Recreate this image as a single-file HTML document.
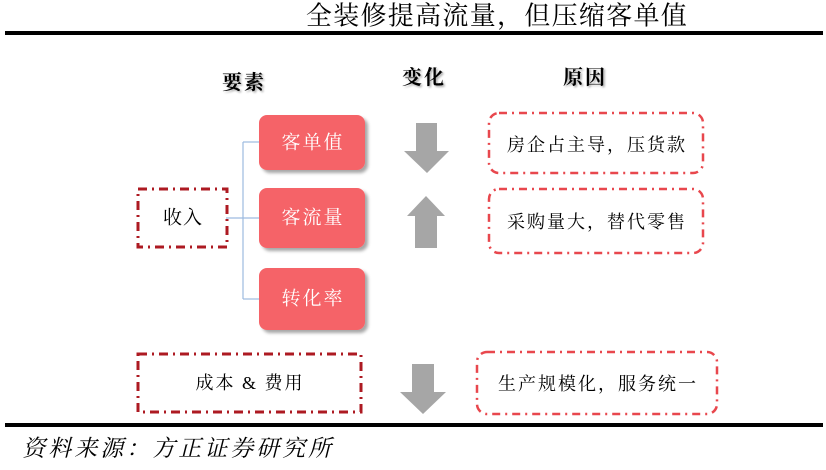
<!DOCTYPE html>
<html>
<head>
<meta charset="utf-8">
<style>
  html,body{margin:0;padding:0;background:#fff;}
  body{width:826px;height:470px;overflow:hidden;}
  svg{display:block;}
  text{font-family:"Liberation Serif","Noto Serif CJK SC",serif;}
</style>
</head>
<body>
<svg width="826" height="470" viewBox="0 0 826 470" xmlns="http://www.w3.org/2000/svg">
  <defs>
    <filter id="sh" x="-10%" y="-10%" width="130%" height="140%">
      <feGaussianBlur in="SourceAlpha" stdDeviation="1.5"/>
      <feOffset dx="3" dy="3" result="o"/>
      <feComponentTransfer><feFuncA type="linear" slope="0.35"/></feComponentTransfer>
      <feMerge><feMergeNode/><feMergeNode in="SourceGraphic"/></feMerge>
    </filter>
    <filter id="tsh" x="-10%" y="-10%" width="130%" height="140%">
      <feGaussianBlur in="SourceAlpha" stdDeviation="1"/>
      <feOffset dx="1.5" dy="1.5" result="o"/>
      <feComponentTransfer><feFuncA type="linear" slope="0.35"/></feComponentTransfer>
      <feMerge><feMergeNode/><feMergeNode in="SourceGraphic"/></feMerge>
    </filter>
  </defs>

  <!-- Title -->
  <text x="497" y="16" font-size="26" letter-spacing="1.3" text-anchor="middle" dominant-baseline="central" fill="#000">全装修提高流量，但压缩客单值</text>
  <rect x="5" y="31" width="818" height="4" fill="#000"/>

  <!-- Headers -->
  <g filter="url(#tsh)" font-weight="bold" font-size="20" fill="#000" letter-spacing="2" text-anchor="middle" dominant-baseline="central">
    <text x="244" y="83">要素</text>
    <text x="424" y="78">变化</text>
    <text x="585" y="78">原因</text>
  </g>

  <!-- Connectors -->
  <g stroke="#9dbbe0" stroke-width="1.2" fill="none">
    <line x1="243" y1="142" x2="243" y2="299"/>
    <line x1="243" y1="142" x2="259" y2="142"/>
    <line x1="226" y1="218" x2="259" y2="218"/>
    <line x1="243" y1="299" x2="259" y2="299"/>
  </g>

  <!-- Red boxes -->
  <g filter="url(#sh)" fill="#f56468">
    <rect x="259" y="115" width="106" height="55" rx="8"/>
    <rect x="259" y="188" width="106" height="60" rx="8"/>
    <rect x="259" y="268" width="106" height="62" rx="8"/>
  </g>
  <g fill="#fff" font-size="19" letter-spacing="2" text-anchor="middle" dominant-baseline="central">
    <text x="313" y="143">客单值</text>
    <text x="313" y="218">客流量</text>
    <text x="313" y="299">转化率</text>
  </g>

  <!-- Dark red dash-dot boxes -->
  <g fill="none" stroke="#ad1a22" stroke-width="3" stroke-dasharray="9 5 2 5">
    <rect x="138" y="189" width="89" height="58"/>
    <rect x="138" y="354" width="223" height="58"/>
  </g>
  <g fill="#000" font-size="19" text-anchor="middle" dominant-baseline="central">
    <text x="183" y="218" letter-spacing="1">收入</text>
    <text x="250" y="383" font-size="18" letter-spacing="2">成本 &amp; 费用</text>
  </g>

  <!-- Light red dash-dot rounded boxes -->
  <g fill="none" stroke="#e8474d" stroke-width="2.5" stroke-dasharray="8 5 2 5">
    <rect x="489" y="113" width="214" height="60" rx="10"/>
    <rect x="489" y="189" width="214" height="64" rx="10"/>
    <rect x="477" y="352" width="240" height="62" rx="10"/>
  </g>
  <g fill="#000" font-size="18" letter-spacing="2" text-anchor="middle" dominant-baseline="central">
    <text x="597" y="145">房企占主导，压货款</text>
    <text x="597" y="222">采购量大，替代零售</text>
    <text x="598" y="384">生产规模化，服务统一</text>
  </g>

  <!-- Arrows -->
  <g fill="#a6a6a6">
    <polygon points="416,123 437,123 437,151 449,151 427,173 404,151 416,151"/>
    <polygon points="426,196 445,216 437,216 437,248 415,248 415,216 407,216"/>
    <polygon points="412,364 434,364 434,392 446,392 423,414 400,392 412,392"/>
  </g>

  <!-- Bottom line & source -->
  <rect x="5" y="423" width="818" height="4" fill="#000"/>
  <text x="0" y="0" font-size="23" letter-spacing="3" fill="#000" dominant-baseline="central" transform="translate(24,449) skewX(-14)">资料来源：方正证券研究所</text>
</svg>
</body>
</html>
